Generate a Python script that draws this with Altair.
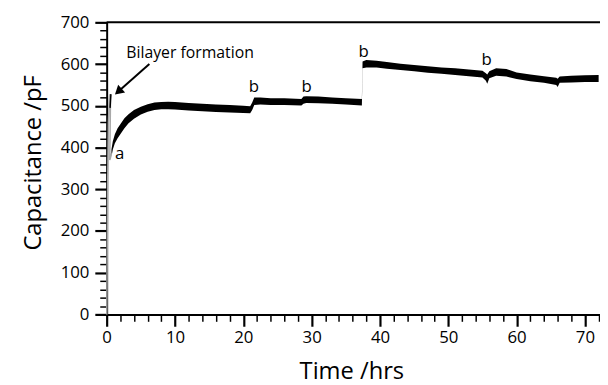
import altair as alt
import pandas as pd

# ---- main capacitance trace (noisy band read as lower / upper edges) ----
band_t = [0.70, 0.9, 1.2, 1.6, 2.0, 2.6, 3.2, 4.0, 5.0, 6.0, 7.0, 8.0, 9.0, 10.0,
          12.0, 14.0, 16.0, 18.0, 20.0, 21.0, 21.3, 21.6, 22.5, 24.0, 26.0, 28.5,
          28.8, 29.2, 31.0, 33.0, 35.0, 37.35, 37.45, 38.0, 39.5, 41.0, 43.0, 45.0,
          47.0, 49.0, 51.0, 53.0, 55.0, 55.5, 55.7, 56.0, 57.0, 58.5, 60.0, 62.0,
          64.0, 65.8, 66.0, 66.3, 68.0, 70.0, 72.0]
band_lo = [378, 395, 410, 422, 432, 446, 458, 469, 479, 486, 490, 492, 492, 491,
           489, 487, 485, 484, 483, 482, 490, 502, 503, 502, 502, 501,
           505, 507, 506, 505, 503, 501, 590, 592, 592, 589, 586, 583,
           579, 577, 574, 571, 568, 560, 553, 566, 572, 570, 564, 559,
           555, 550, 545, 555, 556, 557, 557]
band_hi = [395, 415, 432, 446, 456, 470, 480, 490, 498, 504, 508, 509, 510, 509,
           507, 505, 503, 502, 500, 499, 508, 520, 520, 518, 518, 516,
           522, 523, 522, 520, 518, 516, 606, 610, 608, 605, 601, 598,
           595, 592, 590, 587, 584, 578, 575, 583, 590, 588, 580, 575,
           571, 567, 565, 570, 572, 573, 574]

# ---- grey bilayer-formation trace ----
spike_t = [0.02, 0.08, 0.15, 0.25, 0.40, 0.50, 0.55, 0.50, 0.45, 0.55, 0.70]
spike_c = [0, 150, 320, 460, 520, 528, 500, 430, 370, 375, 386]

# ---- black tip of the spike ----
tip_t = [0.50, 0.62]
tip_c = [495, 528]

# ---- arrow ----
arrow_t = [6.25]
arrow_c = [600]
arrow_t2 = [1.7]
arrow_c2 = [534]

# ---- annotations ----
note_text = ["a", "b", "b", "b", "b"]
note_t = [1.9, 21.55, 29.25, 37.6, 55.6]
note_c = [373, 533, 533, 616, 598]
label_text = ["Bilayer formation"]
label_t = [12.2]
label_c = [614]

top_value = [700]

FONT = "Open Sans"
X_DOM = [0, 72.2]
Y_DOM = [0, 700]

band_df = pd.DataFrame({"t": band_t, "c": band_lo, "hi": band_hi})
spike_df = pd.DataFrame({"t": spike_t, "c": spike_c, "i": list(range(len(spike_t)))})
tip_df = pd.DataFrame({"t": tip_t, "c": tip_c})
arrow_df = pd.DataFrame({"t": arrow_t, "c": arrow_c, "t2": arrow_t2, "c2": arrow_c2})
head_df = pd.DataFrame({"t": arrow_t2, "c": arrow_c2})
note_df = pd.DataFrame({"txt": note_text, "t": note_t, "c": note_c})
label_df = pd.DataFrame({"txt": label_text, "t": label_t, "c": label_c})
top_df = pd.DataFrame({"c": top_value})

xscale = alt.Scale(domain=X_DOM, nice=False, zero=False)
yscale = alt.Scale(domain=Y_DOM, nice=False)

x_axis = alt.Axis(
    values=list(range(0, 73, 2)),
    labelExpr="datum.value % 10 === 0 ? datum.label : ''",
    tickSize={"condition": {"test": "datum.value % 10 === 0", "value": 12}, "value": 7},
    tickWidth={"condition": {"test": "datum.value % 10 === 0", "value": 2.2}, "value": 1.5},
    tickColor="black", domainColor="black", domainWidth=2,
    labelFont=FONT, labelFontSize=17, labelColor="black", labelPadding=3,
    labelFlush=False, labelOverlap=False, labelBound=False,
    title="Time /hrs", titleFont=FONT, titleFontSize=24, titleFontWeight="normal",
    titleColor="black", titleX=248, titleY=46, grid=False,
)
y_axis = alt.Axis(
    values=list(range(0, 701, 20)),
    labelExpr="datum.value % 100 === 0 ? datum.label : ''",
    tickSize={"condition": {"test": "datum.value % 100 === 0", "value": 12}, "value": 7},
    tickWidth={"condition": {"test": "datum.value % 100 === 0", "value": 2.2}, "value": 1.5},
    tickColor="black", domainColor="black", domainWidth=2,
    labelFont=FONT, labelFontSize=17, labelColor="black", labelPadding=6,
    labelFlush=False, labelOverlap=False, labelBound=False,
    title="Capacitance /pF", titleFont=FONT, titleFontSize=24, titleFontWeight="normal",
    titleColor="black", titleX=-62, titleY=142, grid=False,
)


def X(field):
    return alt.X(field, scale=xscale, axis=x_axis, title="Time /hrs")


def Y(field):
    return alt.Y(field, scale=yscale, axis=y_axis, title="Capacitance /pF")


band = alt.Chart(band_df).mark_area(color="black", opacity=1).encode(
    x=X("t:Q"), y=Y("c:Q"), y2="hi:Q",
)

spike = alt.Chart(spike_df).mark_line(color="#a8a8a8", strokeWidth=1.5).encode(
    x=X("t:Q"), y=Y("c:Q"), order="i:Q",
)

tip = alt.Chart(tip_df).mark_line(color="black", strokeWidth=1.5).encode(
    x=X("t:Q"), y=Y("c:Q"),
)

arrow_line = alt.Chart(arrow_df).mark_rule(color="black", strokeWidth=2).encode(
    x=X("t:Q"), y=Y("c:Q"), x2="t2:Q", y2="c2:Q",
)

arrow_head = alt.Chart(head_df).mark_point(
    shape="triangle-up", filled=True, size=110, angle=228, color="black", opacity=1
).encode(
    x=X("t:Q"), y=Y("c:Q"),
)

notes = alt.Chart(note_df).mark_text(
    font=FONT, fontSize=17, color="black", align="center", baseline="alphabetic"
).encode(
    x=X("t:Q"), y=Y("c:Q"), text="txt:N",
)

label = alt.Chart(label_df).mark_text(
    font=FONT, fontSize=16, color="black", align="center", baseline="alphabetic"
).encode(
    x=X("t:Q"), y=Y("c:Q"), text="txt:N",
)

top = alt.Chart(top_df).mark_rule(color="black", strokeWidth=2).encode(
    y=Y("c:Q"),
)

chart = alt.layer(band, spike, tip, arrow_line, arrow_head, notes, label, top).properties(
    width=500,
    height=296,
    autosize=alt.AutoSizeParams(type="none"),
    padding={"left": 100, "top": 12, "right": 0, "bottom": 69},
    background="white",
).configure_view(stroke=None)

chart.save("out.html", embed_options={"renderer": "svg", "actions": False})
